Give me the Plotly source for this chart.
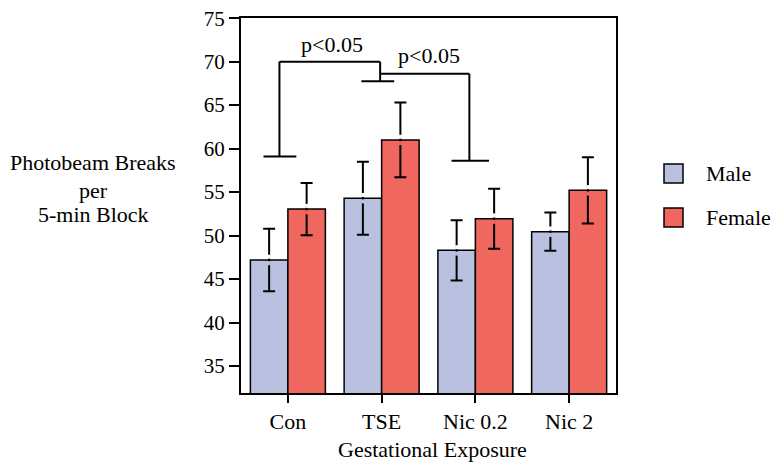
import plotly.graph_objects as go

categories = ["Con", "TSE", "Nic 0.2", "Nic 2"]
male_values = [47.2, 54.3, 48.3, 50.45]
male_err = [3.6, 4.2, 3.45, 2.2]
female_values = [53.05, 61.0, 51.95, 55.2]
female_err = [3.0, 4.3, 3.45, 3.8]

y_ticks = [35, 40, 45, 50, 55, 60, 65, 70, 75]

# significance brackets: (x of left leg, y of left cap, top y, x of right leg, y of right cap)
bracket_1 = [-0.09, 59.1, 70.0, 0.984, 67.75]
bracket_2 = [0.984, 68.6, 68.6, 1.936, 58.6]
bracket_labels = ["p<0.05", "p<0.05"]
label_pos = [(0.47, 72.0), (1.50, 70.7)]

MALE_COLOR = "#bac0df"
FEMALE_COLOR = "#f0675f"
FONT = "Liberation Serif"
FS = 22
TICK_FS = 21

W, H = 774, 464
L, R, T, B = 241, 158, 18, 71
pw, ph = W - L - R, H - T - B


def px2paper(sx, sy):
    return (sx - L) / pw, (H - B - sy) / ph


fig = go.Figure()
fig.add_trace(go.Bar(
    x=categories, y=male_values, name="Male",
    marker=dict(color=MALE_COLOR, line=dict(color="black", width=1.5)),
    error_y=dict(type="data", array=male_err, visible=True, color="black", thickness=2, width=6),
    showlegend=False,
))
fig.add_trace(go.Bar(
    x=categories, y=female_values, name="Female",
    marker=dict(color=FEMALE_COLOR, line=dict(color="black", width=1.5)),
    error_y=dict(type="data", array=female_err, visible=True, color="black", thickness=2, width=6),
    showlegend=False,
))

# small breaks in the error-bar stems on either side of each bar top (as in the reference)
GAP_OUT, GAP_IN = 0.6, 0.14
for offset, vals, fill in [(-0.2, male_values, MALE_COLOR), (0.2, female_values, FEMALE_COLOR)]:
    for i, v in enumerate(vals):
        xc = i + offset
        fig.add_shape(type="line", x0=xc, x1=xc, y0=v + GAP_IN, y1=v + GAP_OUT, xref="x", yref="y",
                      line=dict(color="white", width=3), layer="above")
        fig.add_shape(type="line", x0=xc, x1=xc, y0=v - GAP_OUT, y1=v - GAP_IN, xref="x", yref="y",
                      line=dict(color=fill, width=3), layer="above")

line = dict(color="black", width=2)
cap = 0.17
# bracket 1
x0, yl, yt, x1, yr = bracket_1
fig.add_shape(type="line", x0=x0 - cap, x1=x0 + cap + 0.01, y0=yl, y1=yl, xref="x", yref="y", line=line)
fig.add_shape(type="line", x0=x0, x1=x0, y0=yl, y1=yt, xref="x", yref="y", line=line)
fig.add_shape(type="line", x0=x0, x1=x1, y0=yt, y1=yt, xref="x", yref="y", line=line)
fig.add_shape(type="line", x0=x1, x1=x1, y0=yt, y1=yr, xref="x", yref="y", line=line)
fig.add_shape(type="line", x0=x1 - 0.2, x1=x1 + 0.15, y0=yr, y1=yr, xref="x", yref="y", line=line)
# bracket 2
x0, yl, yt, x1, yr = bracket_2
fig.add_shape(type="line", x0=x0, x1=x1, y0=yt, y1=yt, xref="x", yref="y", line=line)
fig.add_shape(type="line", x0=x1, x1=x1, y0=yt, y1=yr, xref="x", yref="y", line=line)
fig.add_shape(type="line", x0=x1 - 0.19, x1=x1 + 0.21, y0=yr, y1=yr, xref="x", yref="y", line=line)

for txt, (lx, ly) in zip(bracket_labels, label_pos):
    fig.add_annotation(x=lx, y=ly, xref="x", yref="y", text=txt, showarrow=False,
                       font=dict(family=FONT, size=FS, color="black"))

# y-axis title (horizontal, three lines)
for txt, sy in zip(["Photobeam Breaks", "per", "5-min Block"], [162, 190.5, 214.5]):
    ax, ay = px2paper(93, sy)
    fig.add_annotation(x=ax, y=ay, xref="paper", yref="paper", text=txt,
                       showarrow=False, xanchor="center", yanchor="middle",
                       font=dict(family=FONT, size=FS, color="black"))

# x-axis title
ax, ay = px2paper(432, 449.5)
fig.add_annotation(x=ax, y=ay, xref="paper", yref="paper", text="Gestational Exposure",
                   showarrow=False, xanchor="center", yanchor="middle",
                   font=dict(family=FONT, size=FS, color="black"))

# legend (custom)
for name, color, (sy0, sy1) in [("Male", MALE_COLOR, (164, 183)), ("Female", FEMALE_COLOR, (208, 227))]:
    ax0, ay0 = px2paper(664, sy1)
    ax1, ay1 = px2paper(683, sy0)
    fig.add_shape(type="rect", xref="paper", yref="paper", x0=ax0, x1=ax1, y0=ay0, y1=ay1,
                  fillcolor=color, line=dict(color="black", width=1.5))
    tx, ty = px2paper(704, (sy0 + sy1) / 2)
    fig.add_annotation(x=tx, y=ty, xref="paper", yref="paper", text=name, showarrow=False,
                       xanchor="left", yanchor="middle", font=dict(family=FONT, size=FS, color="black"))

fig.update_layout(
    width=W, height=H,
    margin=dict(l=L, r=R, t=T, b=B),
    plot_bgcolor="white", paper_bgcolor="white",
    barmode="group", bargap=0.2, bargroupgap=0,
    font=dict(family=FONT, size=TICK_FS, color="black"),
    xaxis=dict(type="category", range=[-0.5, 3.5], showline=True, linewidth=2, linecolor="black",
               mirror=True, ticks="outside", ticklen=8, tickwidth=2, tickcolor="black",
               showgrid=False, zeroline=False, automargin=False,
               tickfont=dict(family=FONT, size=FS)),
    yaxis=dict(range=[31.9, 75.02], tickvals=y_ticks, showline=True, linewidth=2, linecolor="black",
               mirror=True, ticks="outside", ticklen=10, tickwidth=2, tickcolor="black",
               showgrid=False, zeroline=False, automargin=False,
               tickfont=dict(family=FONT, size=TICK_FS)),
)

fig.write_html("out.html", config={"displayModeBar": False},
               post_script="document.body.style.margin='0';document.body.style.overflow='hidden';")
